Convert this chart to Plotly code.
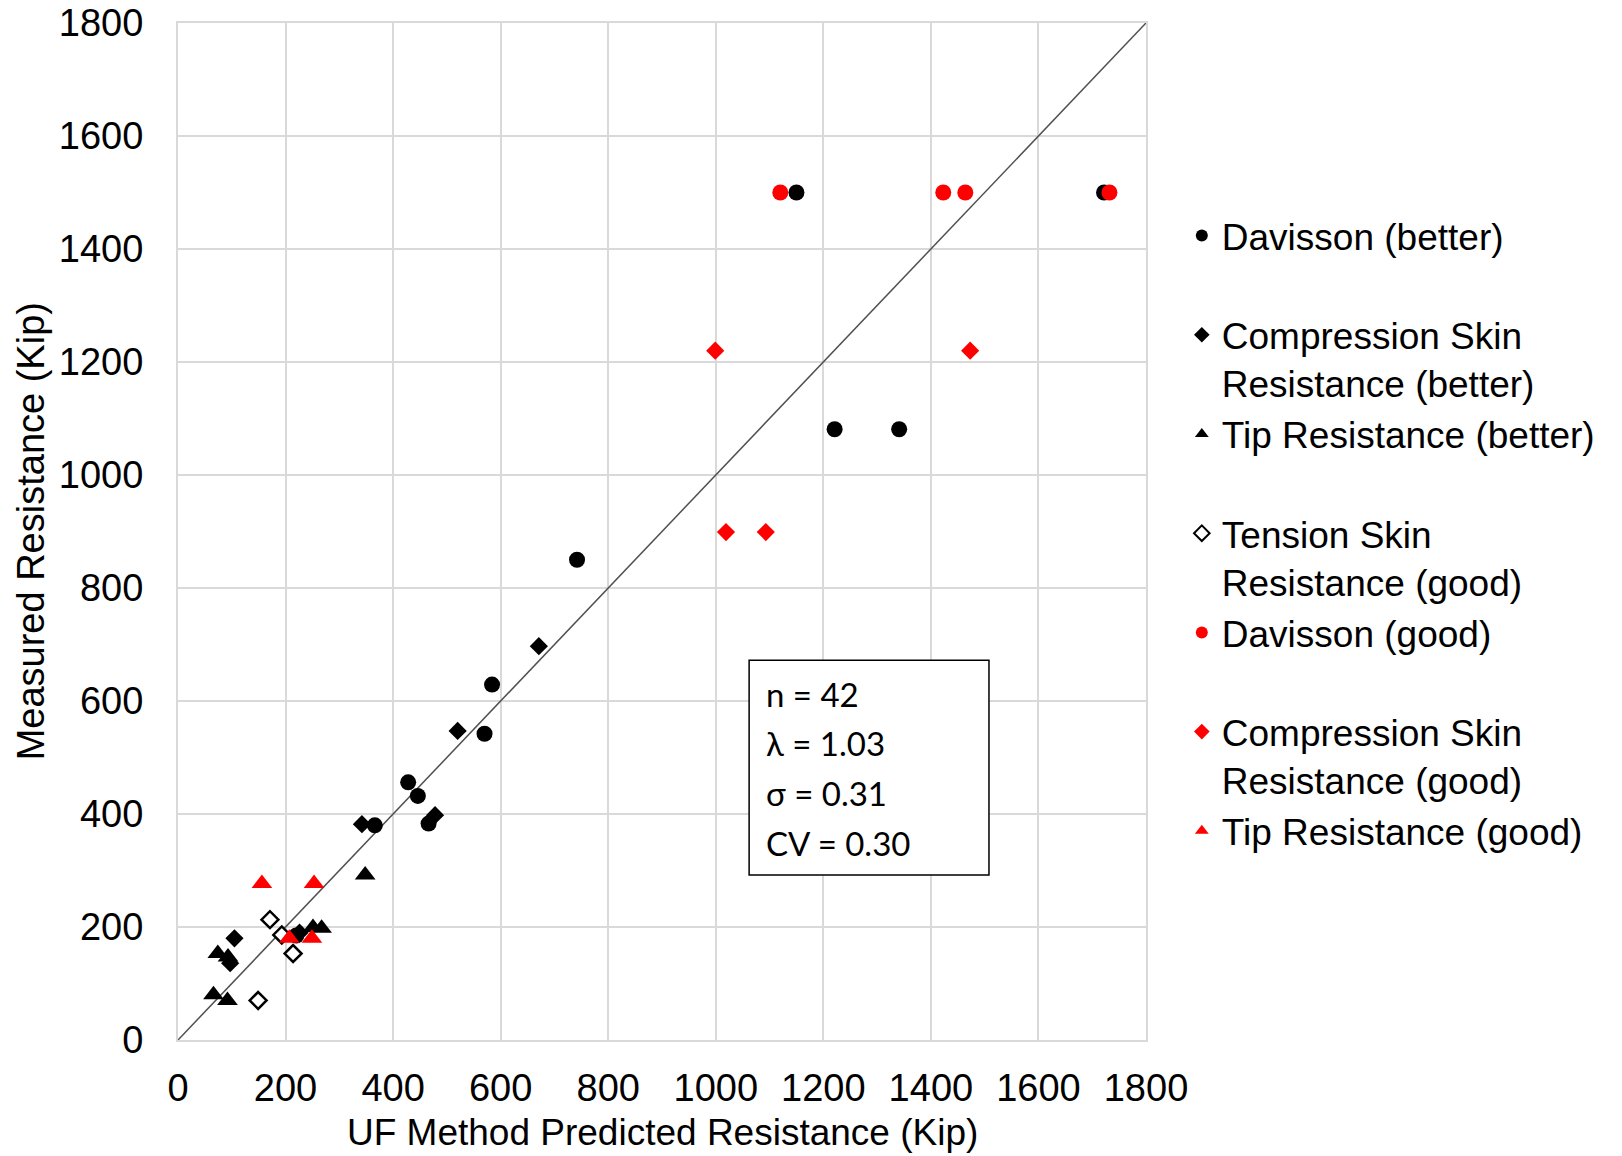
import plotly.graph_objects as go

# ---- data ----
dav_better_x = [1150, 1722, 1221, 1341, 742, 584, 570, 428, 446, 466, 366, 220]
dav_better_y = [1500, 1500, 1081, 1081, 850, 629, 542, 456, 432, 383, 380, 185]

comp_better_x = [671, 520, 478, 342, 226, 105, 97]
comp_better_y = [697, 547, 398, 382, 190, 180, 136]

tip_better_x = [348, 251, 267, 74, 93, 66, 92]
tip_better_y = [292, 199, 198, 153, 147, 80, 70]

tension_good_x = [171, 193, 214, 149]
tension_good_y = [213, 186, 153, 70]

dav_good_x = [1120, 1423, 1464, 1732]
dav_good_y = [1500, 1500, 1500, 1500]

comp_good_x = [999, 1473, 1019, 1093]
comp_good_y = [1220, 1220, 899, 899]

tip_good_x = [156, 253, 207, 249]
tip_good_y = [277, 277, 180, 180]

line_x = [0, 1800]
line_y = [0, 1800]

ticks = [0, 200, 400, 600, 800, 1000, 1200, 1400, 1600, 1800]
stats_lines = ["n = 42", "λ = 1.03", "σ = 0.31", "CV = 0.30"]
stats_y = [612, 525, 437, 348]

NB = "\u00a0"
FONT = "Arial, Liberation Sans"
fig = go.Figure()

fig.add_trace(go.Scatter(x=line_x, y=line_y, mode="lines",
                         line=dict(color="#505050", width=1.5),
                         showlegend=False, hoverinfo="skip"))

series = [
    ("Davisson (better)<br>" + NB, dav_better_x, dav_better_y, "circle", "black", 16, None),
    ("Compression Skin<br>Resistance (better)", comp_better_x, comp_better_y, "diamond", "black", 14, None),
    ("Tip Resistance (better)<br>" + NB, tip_better_x, tip_better_y, "triangle-up", "black", 18, None),
    ("Tension Skin<br>Resistance (good)", tension_good_x, tension_good_y, "diamond", "white", 13, "black"),
    ("Davisson (good)<br>" + NB, dav_good_x, dav_good_y, "circle", "#ff0000", 16, None),
    ("Compression Skin<br>Resistance (good)", comp_good_x, comp_good_y, "diamond", "#ff0000", 14, None),
    ("Tip Resistance (good)<br>" + NB, tip_good_x, tip_good_y, "triangle-up", "#ff0000", 18, None),
]
for name, xs, ys, sym, col, size, outline in series:
    if outline:
        mk = dict(symbol=sym, size=size, color=col, line=dict(color=outline, width=2.5))
    else:
        mk = dict(symbol=sym, size=size, color=col, line=dict(width=0))
    fig.add_trace(go.Scatter(x=xs, y=ys, mode="markers", name=name, marker=mk))

axis_common = dict(
    range=[0, 1800], tickvals=ticks, showgrid=True, gridcolor="#d9d9d9", gridwidth=2,
    showline=True, mirror=True, linecolor="#d9d9d9", linewidth=2, zeroline=False,
    automargin=False,
    tickfont=dict(family=FONT, size=38, color="black"),
)
fig.update_xaxes(**axis_common, ticklabelstandoff=13)
fig.update_yaxes(**axis_common, ticklabelstandoff=25)

fig.add_shape(type="rect", xref="x", yref="y", x0=1062, x1=1508, y0=292, y1=672,
              line=dict(color="black", width=1.5), fillcolor="white", layer="above")
for t, yv in zip(stats_lines, stats_y):
    fig.add_annotation(x=1090, y=yv, xref="x", yref="y", text=t, showarrow=False,
                       xanchor="left", yanchor="middle",
                       font=dict(family="Lato", size=33, color="black"))

fig.add_annotation(x=0.5, y=-0.0914, xref="paper", yref="paper",
                   text="UF Method Predicted Resistance (Kip)", showarrow=False,
                   xanchor="center", yanchor="middle",
                   font=dict(family=FONT, size=37, color="black"))
fig.add_annotation(x=-0.152, y=0.5, xref="paper", yref="paper",
                   text="Measured Resistance (Kip)", showarrow=False, textangle=-90,
                   xanchor="center", yanchor="middle",
                   font=dict(family=FONT, size=38, color="black"))

fig.update_layout(
    width=1622, height=1156,
    margin=dict(l=178, r=476, t=23, b=116),
    plot_bgcolor="white", paper_bgcolor="white",
    legend=dict(x=1.037, xanchor="left", y=0.821, yanchor="top",
                font=dict(family=FONT, size=37, color="black"),
                valign="top", itemsizing="constant", bgcolor="rgba(0,0,0,0)"),
)

fig.write_html("out.html")
